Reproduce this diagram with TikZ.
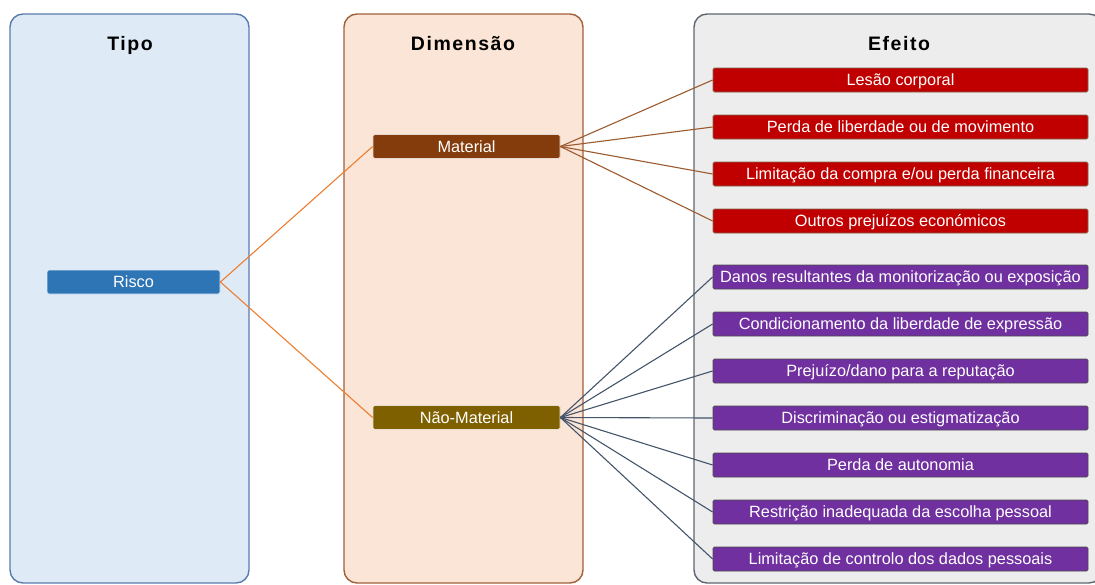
\documentclass[tikz,border=0pt]{standalone}
\usepackage{fontspec}
\setmainfont{Liberation Sans}
\definecolor{tipofill}{HTML}{DEEBF7}
\definecolor{tipoline}{HTML}{5A7BAE}
\definecolor{dimfill}{HTML}{FBE5D6}
\definecolor{dimline}{HTML}{A0603A}
\definecolor{efefill}{HTML}{EDEDED}
\definecolor{efeline}{HTML}{5F6670}
\definecolor{riscofill}{HTML}{2E75B6}
\definecolor{matfill}{HTML}{843C0C}
\definecolor{naofill}{HTML}{7F6000}
\definecolor{redfill}{HTML}{C00000}
\definecolor{purfill}{HTML}{7030A0}
\definecolor{orangeline}{HTML}{ED7D31}
\definecolor{brownline}{HTML}{9C5A2E}
\definecolor{slateline}{HTML}{44546A}
\tikzset{
  panel/.style={rounded corners=13pt, line width=1.4pt},
  heading/.style={anchor=base, font={\fontsize{19.5}{22}\selectfont\bfseries\addfontfeature{LetterSpace=8}}},
  item/.style={text=white, inner sep=0pt, text height=11.8pt, text depth=0pt,
    minimum height=24pt, line width=0.8pt, rounded corners=1.5pt,
    font={\fontsize{16.3}{18}\selectfont}},
  riskbox/.style={item, fill=riscofill, draw=white!85!riscofill, minimum width=173pt},
  dimbox/.style={item, draw=white!80!#1, fill=#1, minimum width=187pt},
  redbox/.style={item, fill=redfill, draw=brown!50!black!80, minimum width=375pt},
  purbox/.style={item, fill=purfill, draw=black!70, minimum width=375pt},
  link/.style={line width=1.1pt}
}
\begin{document}
\begin{tikzpicture}[x=1pt, y=-1pt]
\useasboundingbox (0,0) rectangle (1095,584);
% column panels
\draw[panel, fill=tipofill, draw=tipoline] (10,14) rectangle (249,583);
\draw[panel, fill=dimfill, draw=dimline] (344,14) rectangle (583,583);
\draw[panel, fill=efefill, draw=efeline] (694,14) rectangle (1102,583);
\node[heading] (tTipo) at (130,50.5) {Tipo};
\node[heading] (tDim) at (463,50.5) {Dimensão};
\node[heading] (tEfe) at (899,50.5) {Efeito};
% type and dimensions
\node[riskbox] (risco) at (133.5,282) {Risco};
\node[dimbox=matfill] (mat) at (466.5,146.5) {Material};
\node[dimbox=naofill] (nao) at (466.5,417.5) {Não-Material};
% material effects
\node[redbox] (r1) at (900.5,80) {Lesão corporal};
\node[redbox] (r2) at (900.5,127) {Perda de liberdade ou de movimento};
\node[redbox] (r3) at (900.5,174) {Limitação da compra e/ou perda financeira};
\node[redbox] (r4) at (900.5,221) {Outros prejuízos económicos};
% non-material effects
\node[purbox] (p1) at (900.5,277) {Danos resultantes da monitorização ou exposição};
\node[purbox] (p2) at (900.5,324) {Condicionamento da liberdade de expressão};
\node[purbox] (p3) at (900.5,371) {Prejuízo/dano para a reputação};
\node[purbox] (p4) at (900.5,418) {Discriminação ou estigmatização};
\node[purbox] (p5) at (900.5,465) {Perda de autonomia};
\node[purbox] (p6) at (900.5,512) {Restrição inadequada da escolha pessoal};
\node[purbox] (p7) at (900.5,559) {Limitação de controlo dos dados pessoais};
% connectors
\draw[link, orangeline] (mat.west) -- (risco.east) -- (nao.west);
\foreach \t in {r1,r2,r3,r4}
  \draw[link, brownline] (mat.east) -- (\t.west);
\foreach \t in {p1,p2,p3,p4,p5,p6,p7}
  \draw[link, slateline] (nao.east) -- (\t.west);
\end{tikzpicture}
\end{document}
